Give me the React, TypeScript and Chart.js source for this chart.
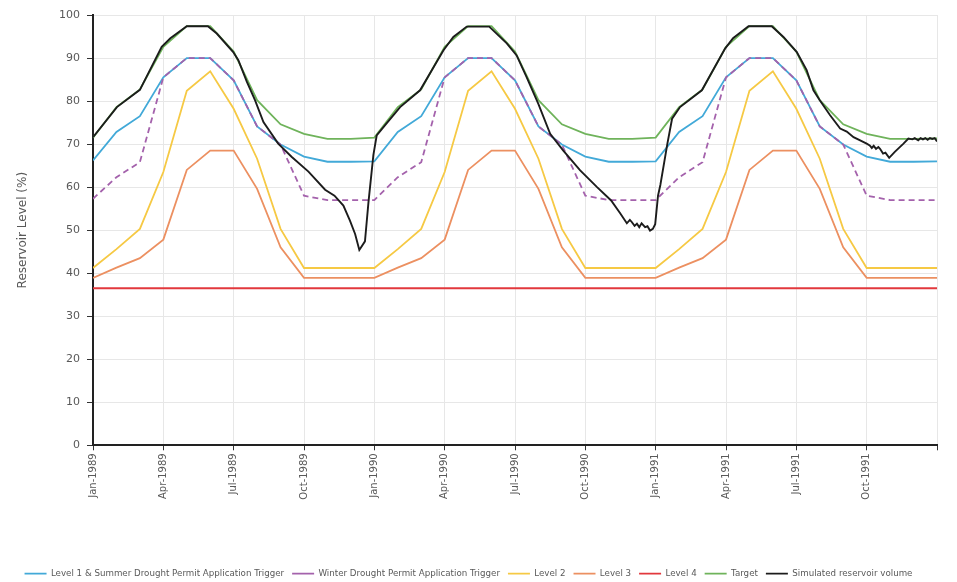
import { useEffect, useRef } from 'react';
import { Chart, registerables } from 'chart.js';

Chart.register(...registerables);

// Month positions 0..36 (Jan-1989 .. Jan-1992); quarterly tick labels
const tickLabels = [
  'Jan-1989', 'Apr-1989', 'Jul-1989', 'Oct-1989',
  'Jan-1990', 'Apr-1990', 'Jul-1990', 'Oct-1990',
  'Jan-1991', 'Apr-1991', 'Jul-1991', 'Oct-1991', '',
];

// Monthly control-curve values (first of each month, Jan-1989 .. Jan-1992)
const level1 = [
  66.2, 72.8, 76.5, 85.5, 90.0, 90.0, 84.8, 74.1, 69.9, 67.1, 65.9, 65.9,
  66.0, 72.8, 76.5, 85.5, 90.0, 90.0, 84.8, 74.1, 69.9, 67.1, 65.9, 65.9,
  66.0, 72.8, 76.5, 85.5, 90.0, 90.0, 84.8, 74.1, 69.9, 67.1, 65.9, 65.9,
  66.0,
];
const winterTrigger = [
  57.3, 62.3, 65.8, 85.5, 90.0, 90.0, 84.8, 74.1, 69.9, 58.0, 57.0, 57.0,
  57.0, 62.3, 65.8, 85.5, 90.0, 90.0, 84.8, 74.1, 69.9, 58.0, 57.0, 57.0,
  57.0, 62.3, 65.8, 85.5, 90.0, 90.0, 84.8, 74.1, 69.9, 58.0, 57.0, 57.0,
  57.0,
];
const level2 = [
  41.2, 45.6, 50.3, 63.5, 82.4, 86.9, 78.2, 66.6, 50.3, 41.2, 41.2, 41.2,
  41.2, 45.6, 50.3, 63.5, 82.4, 86.9, 78.2, 66.6, 50.3, 41.2, 41.2, 41.2,
  41.2, 45.6, 50.3, 63.5, 82.4, 86.9, 78.2, 66.6, 50.3, 41.2, 41.2, 41.2,
  41.2,
];
const level3 = [
  38.9, 41.3, 43.5, 47.8, 64.0, 68.5, 68.5, 59.6, 46.0, 38.9, 38.9, 38.9,
  38.9, 41.3, 43.5, 47.8, 64.0, 68.5, 68.5, 59.6, 46.0, 38.9, 38.9, 38.9,
  38.9, 41.3, 43.5, 47.8, 64.0, 68.5, 68.5, 59.6, 46.0, 38.9, 38.9, 38.9,
  38.9,
];
const level4 = [
  36.5, 36.5, 36.5, 36.5, 36.5, 36.5, 36.5, 36.5, 36.5, 36.5, 36.5, 36.5,
  36.5, 36.5, 36.5, 36.5, 36.5, 36.5, 36.5, 36.5, 36.5, 36.5, 36.5, 36.5,
  36.5, 36.5, 36.5, 36.5, 36.5, 36.5, 36.5, 36.5, 36.5, 36.5, 36.5, 36.5,
  36.5,
];
const target = [
  71.5, 78.6, 82.7, 92.6, 97.4, 97.4, 91.5, 80.2, 74.6, 72.4, 71.2, 71.2,
  71.5, 78.6, 82.7, 92.6, 97.4, 97.4, 91.5, 80.2, 74.6, 72.4, 71.2, 71.2,
  71.5, 78.6, 82.7, 92.6, 97.4, 97.4, 91.5, 80.2, 74.6, 72.4, 71.2, 71.2,
  71.3,
];

// Simulated reservoir volume: position in months, level in %
const simMonths = [
  0, 1.02, 2.0, 2.93, 3.3, 4.0, 4.9, 5.28, 5.98, 6.2, 6.56, 6.91, 7.27, 7.9,
  8.48, 9.19, 9.9, 10.3, 10.68, 10.96, 11.18, 11.36, 11.6, 11.75, 11.96, 12.1,
  12.46, 13.1, 13.95, 14.95, 15.37, 15.94, 16.9, 17.65, 18.07, 18.5, 19.0, 19.5,
  20.06, 20.78, 21.5, 22.1, 22.5, 22.77, 22.9, 22.98, 23.1, 23.2, 23.3, 23.4,
  23.55, 23.65, 23.76, 23.88, 23.98, 24.1, 24.2, 24.5, 24.7, 25.04, 25.97, 26.96,
  27.3, 27.96, 28.95, 29.45, 30.02, 30.44, 30.73, 31.0, 31.44, 31.87, 32.15, 32.44,
  32.7, 33.0, 33.13, 33.22, 33.3, 33.4, 33.5, 33.57, 33.7, 33.8, 33.96, 34.2,
  34.57, 34.78, 34.95, 35.05, 35.2, 35.3, 35.4, 35.5, 35.6, 35.7, 35.8, 35.9, 36.0,
];
const simLevels = [
  71.6, 78.6, 82.6, 92.6, 94.6, 97.4, 97.4, 95.7, 91.4, 89.5, 84.5, 80.2, 75.1, 70.1,
  67.0, 63.6, 59.4, 58.0, 55.7, 52.2, 49.1, 45.4, 47.4, 56.5, 67.5, 72.0,
  74.4, 78.6, 82.5, 91.8, 94.9, 97.3, 97.3, 93.4, 90.6, 85.5, 79.3, 72.4,
  68.5, 63.9, 60.0, 56.9, 53.8, 51.6, 52.4, 51.9, 51.0, 51.5, 50.7, 51.6,
  50.7, 50.9, 49.9, 50.3, 51.4, 58.0, 60.5, 70.1, 75.9, 78.6, 82.5, 92.2,
  94.6, 97.4, 97.4, 94.9, 91.4, 87.2, 82.5, 80.2, 76.7, 73.6, 72.9, 71.6,
  70.9, 70.1, 69.7, 69.1, 69.6, 68.9, 69.3, 68.9, 67.8, 68.0, 66.8, 68.2,
  70.1, 71.3, 71.1, 71.4, 70.9, 71.4, 71.1, 71.4, 71.0, 71.4, 71.2, 71.4, 70.6,
];

const FONT = "'DejaVu Sans', sans-serif";
const TEXT = '#595959';

const monthly = (vals: number[]) => vals.map((v, i) => ({ x: i, y: v }));

export default function App() {
  const ref = useRef<HTMLCanvasElement | null>(null);

  useEffect(() => {
    document.body.style.margin = '0';
    const canvas = ref.current;
    if (!canvas) return;

    const line = (label: string, data: any[], color: string, order: number, extra: any = {}) => ({
      label,
      data,
      borderColor: color,
      backgroundColor: color,
      borderWidth: 1.8,
      pointRadius: 0,
      pointHoverRadius: 0,
      tension: 0,
      fill: false,
      order,
      ...extra,
    });

    const chart = new Chart(canvas, {
      type: 'line',
      data: {
        datasets: [
          line('Level 1 & Summer Drought Permit Application Trigger', monthly(level1), '#42a9d8', 6),
          line('Winter Drought Permit Application Trigger', monthly(winterTrigger), '#a462ac', 5, { borderDash: [6, 4] }),
          line('Level 2', monthly(level2), '#f6c944', 4),
          line('Level 3', monthly(level3), '#ec9061', 3),
          line('Level 4', monthly(level4), '#e2383d', 2),
          line('Target', monthly(target), '#6fb35b', 1),
          line('Simulated reservoir volume', simMonths.map((m, i) => ({ x: m, y: simLevels[i] })), '#1c1c1c', 0, { borderWidth: 1.9 }),
        ],
      },
      options: {
        animation: false,
        responsive: false,
        devicePixelRatio: 1,
        parsing: false as any,
        layout: { padding: { top: 15, right: 20, bottom: -6, left: 0 } },
        plugins: {
          tooltip: { enabled: false },
          legend: {
            position: 'bottom',
            labels: {
              usePointStyle: true,
              pointStyle: 'line',
              pointStyleWidth: 22,
              font: { family: FONT, size: 8.7 },
              color: TEXT,
              padding: 8,
              sort: (a: any, b: any) => a.datasetIndex - b.datasetIndex,
            },
          },
        },
        scales: {
          x: {
            type: 'linear',
            min: 0,
            max: 36,
            afterFit: (s: any) => { s.height = 116; },
            ticks: {
              stepSize: 3,
              autoSkip: false,
              maxRotation: 90,
              minRotation: 90,
              padding: 3,
              color: TEXT,
              font: { family: FONT, size: 10 },
              callback: (v: any) => tickLabels[Math.round(Number(v) / 3)] ?? '',
            },
            grid: { color: '#e7e7e7', tickColor: '#333', tickLength: 5, lineWidth: 1 },
            border: { color: '#222', width: 2 },
          },
          y: {
            min: 0,
            max: 100,
            afterFit: (s: any) => { s.width = 93; },
            ticks: {
              stepSize: 10,
              padding: 7,
              color: TEXT,
              font: { family: FONT, size: 11 },
            },
            grid: { color: '#e7e7e7', tickColor: '#333', tickLength: 6, lineWidth: 1 },
            border: { color: '#222', width: 2 },
            title: {
              display: true,
              text: 'Reservoir Level (%)',
              color: TEXT,
              font: { family: FONT, size: 12 },
              padding: { top: 16, bottom: 0 },
            },
          },
        },
      },
    });

    return () => chart.destroy();
  }, []);

  return (
    <div style={{ width: 957, height: 582 }}>
      <canvas ref={ref} width={957} height={582} style={{ display: 'block' }} />
    </div>
  );
}
